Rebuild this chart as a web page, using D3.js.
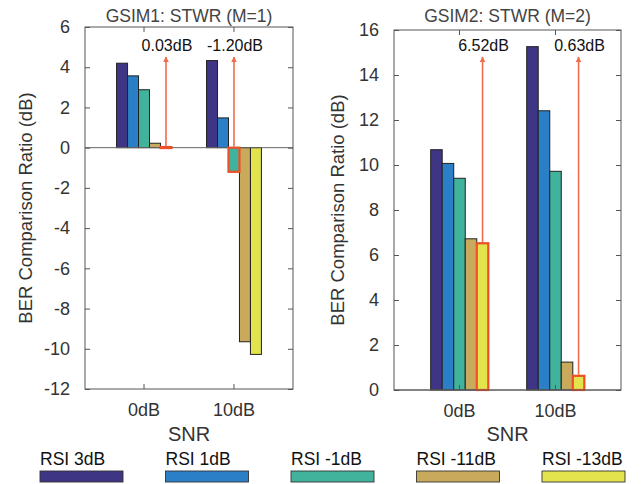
<!DOCTYPE html>
<html>
<head>
<meta charset="utf-8">
<script src="https://cdn.jsdelivr.net/npm/d3@7"></script>
<style>
  body { margin: 0; background: #fff; }
  svg text { font-family: "Liberation Sans", Arial, Helvetica, sans-serif; fill: #333; }
</style>
</head>
<body>
<div id="chart"></div>
<script>
var width = 644;
var height = 484;

// data
const snr = ["0dB", "10dB"];
const series = ["RSI 3dB", "RSI 1dB", "RSI -1dB", "RSI -11dB", "RSI -13dB"];
const colors = ["#3e3584", "#2b7fc6", "#41b29b", "#c9aa5d", "#e3e34e"];

// one row per SNR, one value per series
const gsim1 = [
  [4.2, 3.57, 2.88, 0.22, 0.03],
  [4.33, 1.48, -1.2, -9.65, -10.28]
];
const gsim2 = [
  [10.68, 10.07, 9.41, 6.72, 6.52],
  [15.26, 12.41, 9.72, 1.24, 0.63]
];
// which bar gets the red outline + arrow, per SNR
const gsim1Mark = [4, 2];
const gsim2Mark = [4, 4];

const yTicks1 = d3.range(-12, 7, 2);
const yTicks2 = d3.range(0, 17, 2);

const svg = d3.select("#chart").append("svg")
  .attr("width", width)
  .attr("height", height);

const arrowColor = "#f26b4b";

svg.append("defs").append("marker")
  .attr("id", "head")
  .attr("viewBox", "0 0 10 10")
  .attr("refX", 9).attr("refY", 5)
  .attr("markerWidth", 6).attr("markerHeight", 7)
  .attr("markerUnits", "userSpaceOnUse")
  .attr("orient", "auto")
  .append("path")
  .attr("d", "M0,0L10,5L0,10Z")
  .attr("fill", arrowColor);

// plain hyphen for negatives, like the original
const fmtTick = d => String(d);
const fmtDb = v => v.toFixed(2) + "dB";

function panel(opt) {
  const g = svg.append("g");
  const box = opt.box;

  const x = d3.scaleBand()
    .domain(snr)
    .range([box.left, box.right])
    .paddingOuter(opt.outer)
    .paddingInner(0);
  const groupW = x.step() * opt.groupFrac;
  const xs = d3.scaleBand()
    .domain(d3.range(series.length))
    .range([-groupW / 2, groupW / 2]);
  const y = d3.scaleLinear()
    .domain(opt.yDomain)
    .range([box.bottom, box.top]);

  const cx = s => x(s) + x.bandwidth() / 2;

  // bars
  opt.values.forEach((row, i) => {
    g.append("g").selectAll("rect")
      .data(row)
      .join("rect")
      .attr("x", (d, j) => cx(snr[i]) + xs(j))
      .attr("width", xs.bandwidth())
      .attr("y", d => y(Math.max(0, d)))
      .attr("height", d => Math.abs(y(d) - y(0)))
      .attr("fill", (d, j) => colors[j])
      .attr("stroke", "#222")
      .attr("stroke-width", 1);
  });

  // baseline
  g.append("line")
    .attr("x1", box.left).attr("x2", box.right)
    .attr("y1", y(0)).attr("y2", y(0))
    .attr("stroke", "#666").attr("stroke-width", 1);

  // highlighted bars, arrows and labels
  opt.mark.forEach((j, i) => {
    const v = opt.values[i][j];
    const bx = cx(snr[i]) + xs(j);
    g.append("rect")
      .attr("x", bx).attr("width", xs.bandwidth())
      .attr("y", y(Math.max(0, v)))
      .attr("height", Math.max(1, Math.abs(y(v) - y(0))))
      .attr("fill", colors[j])
      .attr("stroke", "#ee4f26")
      .attr("stroke-width", 2.2);
    const ax = bx + xs.bandwidth() / 2;
    g.append("line")
      .attr("x1", ax).attr("x2", ax)
      .attr("y1", y(Math.max(0, v)) - 1)
      .attr("y2", 57)
      .attr("stroke", arrowColor)
      .attr("stroke-width", 1.6)
      .attr("marker-end", "url(#head)");
    g.append("text")
      .attr("x", ax + 1).attr("y", 51)
      .attr("text-anchor", "middle")
      .style("font-size", "16px")
      .style("fill", "#111")
      .text(fmtDb(v));
  });

  // box + inside ticks
  g.append("rect")
    .attr("x", box.left).attr("y", box.top)
    .attr("width", box.right - box.left)
    .attr("height", box.bottom - box.top)
    .attr("fill", "none")
    .attr("stroke", "#555")
    .attr("stroke-width", 1);

  const yAxis = g.append("g")
    .attr("transform", `translate(${box.left},0)`)
    .call(d3.axisLeft(y).tickValues(opt.yTicks).tickFormat(fmtTick)
      .tickSizeInner(-5).tickSizeOuter(0).tickPadding(15));
  yAxis.select(".domain").remove();
  yAxis.selectAll("text").style("font-size", "18px").attr("fill", null);
  yAxis.selectAll("line").attr("stroke", "#555");

  g.append("g")
    .attr("transform", `translate(${box.right},0)`)
    .call(d3.axisRight(y).tickValues(opt.yTicks).tickSizeInner(-5).tickSizeOuter(0).tickFormat(""))
    .call(a => a.select(".domain").remove())
    .selectAll("line").attr("stroke", "#555");

  const xAxis = g.append("g")
    .attr("transform", `translate(0,${box.bottom})`)
    .call(d3.axisBottom(x).tickSizeInner(-5).tickSizeOuter(0).tickPadding(14));
  xAxis.select(".domain").remove();
  xAxis.selectAll("text").style("font-size", "18px").attr("fill", null);
  xAxis.selectAll("line").attr("stroke", "#555");

  g.append("g")
    .attr("transform", `translate(0,${box.top})`)
    .call(d3.axisTop(x).tickSizeInner(-5).tickSizeOuter(0).tickFormat(""))
    .call(a => a.select(".domain").remove())
    .selectAll("line").attr("stroke", "#555");

  // titles and axis labels
  const mid = (box.left + box.right) / 2;
  g.append("text")
    .attr("x", mid).attr("y", 22)
    .attr("text-anchor", "middle")
    .style("font-size", "17.5px")
    .style("fill", "#444")
    .text(opt.title);
  g.append("text")
    .attr("x", mid).attr("y", 441)
    .attr("text-anchor", "middle")
    .style("font-size", "20px")
    .text("SNR");
  g.append("text")
    .attr("transform", `translate(${opt.yLabelX},${(box.top + box.bottom) / 2}) rotate(-90)`)
    .attr("text-anchor", "middle")
    .style("font-size", "18.5px")
    .text("BER Comparison Ratio (dB)");
}

panel({
  box: { left: 85, right: 293, top: 27, bottom: 389 },
  outer: 0.156, groupFrac: 0.61,
  yDomain: [-12, 6], yTicks: yTicks1,
  values: gsim1, mark: gsim1Mark,
  title: "GSIM1: STWR (M=1)", yLabelX: 32
});

panel({
  box: { left: 394, right: 621, top: 30, bottom: 390 },
  outer: 0.182, groupFrac: 0.6,
  yDomain: [0, 16], yTicks: yTicks2,
  values: gsim2, mark: gsim2Mark,
  title: "GSIM2: STWR (M=2)", yLabelX: 344
});

// legend across the bottom
const legX = d3.scalePoint()
  .domain(series)
  .range([40, 542]);

const leg = svg.append("g").selectAll("g")
  .data(series)
  .join("g")
  .attr("transform", d => `translate(${legX(d)},0)`);

leg.append("text")
  .attr("x", 0).attr("y", 465)
  .style("font-size", "17.5px")
  .style("fill", "#111")
  .text(d => d);

leg.append("rect")
  .attr("x", 0).attr("y", 471)
  .attr("width", 83).attr("height", 11)
  .attr("fill", (d, i) => colors[i])
  .attr("stroke", "#333")
  .attr("stroke-width", 0.9);
</script>
</body>
</html>
